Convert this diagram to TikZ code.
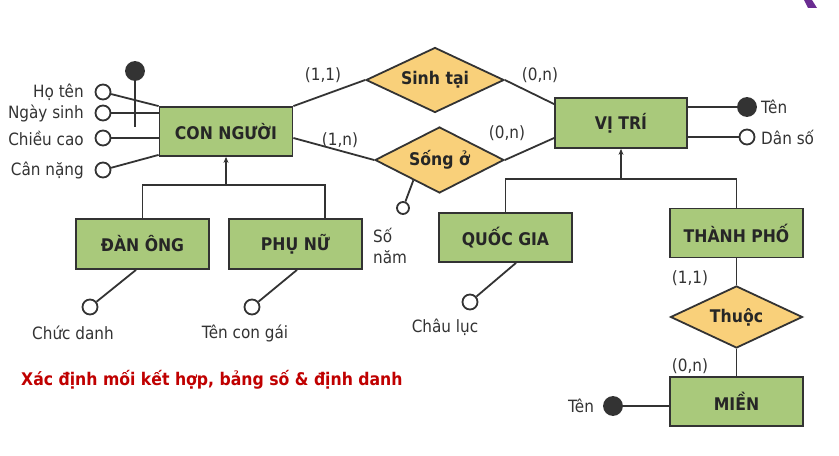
\documentclass[tikz,border=0pt]{standalone}
\usepackage{fontspec}
\setmainfont{DejaVu Sans Condensed}
\usetikzlibrary{shapes.geometric,arrows.meta,calc}
\definecolor{entgreen}{HTML}{A9C97B}
\definecolor{relgold}{HTML}{F9D07A}
\definecolor{linegray}{HTML}{333333}
\definecolor{alertred}{HTML}{C00000}
\definecolor{logopurple}{HTML}{6A2C91}
\begin{document}
\begin{tikzpicture}
[
   x=1bp, y=-1bp,
   draw=linegray, line width=1.8bp,
   every node/.style={text=linegray, font=\fontsize{17}{20}\selectfont},
   entity/.style={rectangle, draw, fill=entgreen, minimum width=133bp, minimum height=49bp,
      inner sep=0pt, text=black!85, font=\fontsize{17.5}{20}\selectfont\bfseries},
   relation/.style={diamond, draw, fill=relgold, aspect=2, inner sep=0pt,
      text=black!85, font=\fontsize{17.5}{20}\selectfont\bfseries},
   attr/.style={circle, draw, fill=white, minimum size=15bp, inner sep=0pt},
   keyattr/.style={circle, draw, fill=linegray, minimum size=18bp, inner sep=0pt},
   card/.style={inner sep=0pt},
   isa/.style={-{Stealth[length=6bp,width=5bp]}}
]
\useasboundingbox[fill=white] (0,0) rectangle (839,456);
\fill[logopurple] (804,0) -- (812,0) -- (817,8) -- (808,8) -- cycle;

% entities
\node[entity] (con) at (226,131.5) {CON NGƯỜI};
\node[entity, minimum width=132bp, minimum height=50bp] (vitri) at (621,123) {VỊ TRÍ};
\node[entity, minimum height=50bp] (danong) at (142.5,244) {ĐÀN ÔNG};
\node[entity, minimum height=50bp] (phunu) at (295.5,244) {PHỤ NỮ};
\node[entity] (quocgia) at (505.5,237.5) {QUỐC GIA};
\node[entity] (thanhpho) at (736.5,233) {THÀNH PHỐ};
\node[entity] (mien) at (736.5,401.5) {MIỀN};

% relationships
\node[relation, minimum width=138bp, minimum height=65bp] (sinhtai) at (435,80) {Sinh tại};
\node[relation, minimum width=129bp, minimum height=66bp] (songo) at (439.5,160) {Sống ở};
\node[relation, minimum width=132bp, minimum height=62bp] (thuoc) at (736.5,317) {Thuộc};

\draw (con.north east) -- (sinhtai.west);
\draw (sinhtai.east) -- ([yshift=-7bp]vitri.north west);
\draw ([yshift=-6.5bp]con.east) -- (songo.west);
\draw (songo.east) -- ([yshift=-15bp]vitri.west);
\draw (thanhpho.south) -- (thuoc.north);
\draw (thuoc.south) -- (mien.north);

\node[card] (c11a) at (323,75) {(1,1)};
\node[card] (c0na) at (540,75) {(0,n)};
\node[card] (c1nb) at (340,140) {(1,n)};
\node[card] (c0nb) at (507,133) {(0,n)};
\node[card] (c11c) at (690,278) {(1,1)};
\node[card] (c0nc) at (690,366) {(0,n)};

% attributes of CON NGUOI
\node[keyattr] (conkey) at (135,71) {};
\coordinate (conkeyend) at (135,127);
\draw (conkey) -- (conkeyend);
\node[attr] (hoten) at (103,92) {};
\node[attr] (ngaysinh) at (103,113) {};
\node[attr] (chieucao) at (103,138) {};
\node[attr] (cannang) at (103,170) {};
\draw (hoten) -- (con.north west);
\draw (ngaysinh) -- (ngaysinh -| con.west);
\draw (chieucao) -- (chieucao -| con.west);
\draw (cannang) -- ([yshift=2bp]con.south west);
\node[anchor=east] (hotenlbl) at (88,92) {Họ tên};
\node[anchor=east] (ngaysinhlbl) at (88,113) {Ngày sinh};
\node[anchor=east] (chieucaolbl) at (88,138) {Chiều cao};
\node[anchor=east] (cannanglbl) at (88,170) {Cân nặng};

% subtypes of CON NGUOI
\coordinate (isacon) at (226,185);
\draw (danong.north) |- (isacon) -| ([xshift=29.5bp]phunu.north);
\draw[isa] (isacon) -- (con.south);
\node[attr] (chucdanh) at (90,307) {};
\node[attr] (tencongai) at (252,307) {};
\draw (chucdanh) -- ([xshift=-6.5bp]danong.south);
\draw (tencongai) -- ([xshift=1.5bp]phunu.south);
\node (chucdanhlbl) at (73,333) {Chức danh};
\node (tencongailbl) at (245,333) {Tên con gái};

% attribute of Song o
\node[attr, minimum size=12bp] (sonam) at (403,208) {};
\draw (sonam) -- ($(songo.west)!0.6!(songo.south)$);
\node[anchor=west, align=left, font=\fontsize{17}{21}\selectfont] (sonamlbl) at (369,245.5) {Số\\năm};

% attributes of VI TRI
\node[keyattr] (tenvitri) at (747,107) {};
\node[attr] (danso) at (747,137) {};
\draw (tenvitri) -- (tenvitri -| vitri.east);
\draw (danso) -- (danso -| vitri.east);
\node[anchor=west] (tenvitrilbl) at (757,107) {Tên};
\node[anchor=west] (dansolbl) at (757,137) {Dân số};

% subtypes of VI TRI
\coordinate (isavitri) at (621,179);
\draw (quocgia.north) |- (isavitri) -| (thanhpho.north);
\draw[isa] (isavitri) -- (vitri.south);
\node[attr] (chauluc) at (470,302) {};
\draw (chauluc) -- ([xshift=10.5bp]quocgia.south);
\node (chauluclbl) at (445,327) {Châu lục};

% attribute of MIEN
\node[keyattr] (tenmien) at (613,406) {};
\draw (tenmien) -- (tenmien -| mien.west);
\node (tenmienlbl) at (581,406) {Tên};

\node[anchor=west, text=alertred, font=\fontsize{17.5}{20}\selectfont\bfseries] (task) at (17,380)
   {Xác định mối kết hợp, bảng số \& định danh};
\end{tikzpicture}
\end{document}
